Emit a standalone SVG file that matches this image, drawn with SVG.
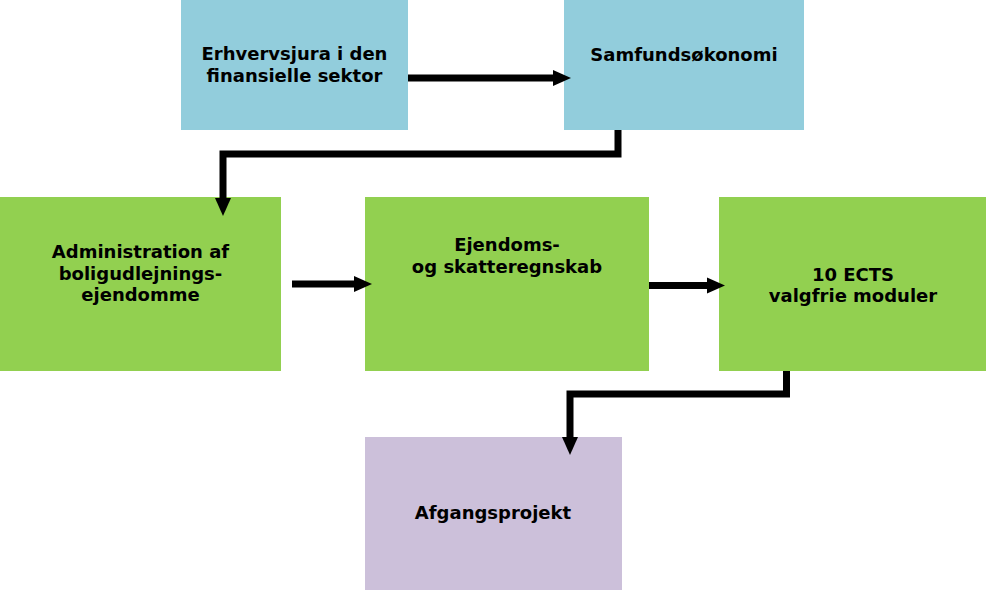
<svg xmlns="http://www.w3.org/2000/svg" width="986" height="590" viewBox="0 0 986 590">
<style>
.blue{fill:#92CDDC}
.green{fill:#92D050}
.purple{fill:#CCC0DA}
text{font-family:"DejaVu Sans",Verdana,sans-serif;font-weight:bold;font-size:18px;fill:#000;text-anchor:middle}
.conn{fill:none;stroke:#000;stroke-width:7;stroke-linejoin:miter;marker-end:url(#ah)}
</style>
<defs>
<marker id="ah" markerUnits="userSpaceOnUse" markerWidth="20" markerHeight="18" refX="0" refY="8" orient="auto" overflow="visible">
<path d="M0,0 L18,8 L0,16 z" fill="#000"/>
</marker>
</defs>
<rect width="986" height="590" fill="#fff"/>
<g id="n1"><rect class="blue" x="181" y="0" width="227" height="130"/>
<text x="294.5" y="60">Erhvervsjura i den</text><text x="294.5" y="82">finansielle sektor</text></g>
<g id="n2"><rect class="blue" x="564" y="0" width="240" height="130"/>
<text x="684" y="61">Samfundsøkonomi</text></g>
<g id="n3"><rect class="green" x="0" y="197" width="281" height="174"/>
<text x="140.5" y="258">Administration af</text><text x="140.5" y="280">boligudlejnings-</text><text x="140.5" y="301">ejendomme</text></g>
<g id="n4"><rect class="green" x="365" y="197" width="284" height="174"/>
<text x="507" y="251">Ejendoms-</text><text x="507" y="273">og skatteregnskab</text></g>
<g id="n5"><rect class="green" x="719" y="197" width="267" height="174"/>
<text x="853" y="281">10 ECTS</text><text x="853" y="302">valgfrie moduler</text></g>
<g id="n6"><rect class="purple" x="365" y="437" width="257" height="153"/>
<text x="493" y="519">Afgangsprojekt</text></g>
<g id="connectors">
<path class="conn" d="M408,78 H553"/>
<path class="conn" d="M618,130 V154 H223 V198"/>
<path class="conn" d="M292,284 H354"/>
<path class="conn" d="M649,285.5 H707"/>
<path class="conn" d="M786.5,371 V394 H570 V437"/>
</g>
</svg>
